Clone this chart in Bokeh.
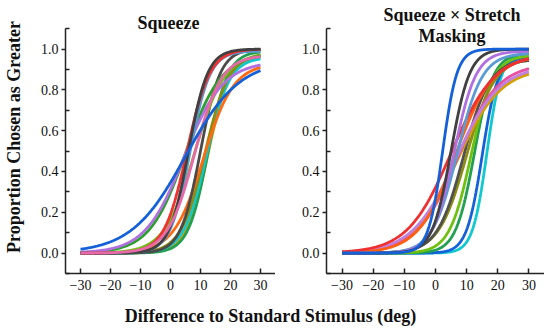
import numpy as np
from bokeh.plotting import figure
from bokeh.layouts import column, row
from bokeh.models import FixedTicker, Label
from bokeh.embed import file_html
from bokeh.resources import INLINE

# ---------------- data ----------------
x_ticks = [-30, -20, -10, 0, 10, 20, 30]
x_tick_labels = ["\u221230", "\u221220", "\u221210", "0", "10", "20", "30"]
y_ticks = [0.0, 0.2, 0.4, 0.6, 0.8, 1.0]
y_tick_labels = ["0.0", "0.2", "0.4", "0.6", "0.8", "1.0"]
y_minor_ticks = [-0.1, 0.1, 0.3, 0.5, 0.7, 0.9, 1.1]
stim_min, stim_max = -30, 30

panel_titles = ["Squeeze", "Squeeze \u00d7 Stretch", "Masking"]
y_label = "Proportion Chosen as Greater"
x_label = "Difference to Standard Stimulus (deg)"

# fitted psychometric functions per participant
sq_colors = ["#d4a000", "#22a050", "#10c8d0", "#8c8c10", "#ff6a10", "#4a4a4a",
             "#70c010", "#2ca02c", "#b070e0", "#5a9ad0", "#f23030", "#404040",
             "#e868a8", "#1460d8"]
sq_pse = [12.5, 12.5, 12.0, 11.5, 11.0, 10.0, 8.0, 5.0, 4.5, 6.5, 5.5, 6.0, 8.0, 5.0]
sq_spread = [3.6, 3.3, 3.8, 4.0, 5.0, 3.3, 5.0, 6.0, 6.5, 3.3, 3.8, 3.2, 4.5, 9.0]
sq_lapse = [0.03, 0.01, 0.04, 0.02, 0.07, 0.0, 0.02, 0.02, 0.06, 0.01, 0.0, 0.0, 0.03, 0.05]

ss_colors = ["#10c8d0", "#1460d8", "#22a050", "#70c010", "#8c8c10", "#505050",
             "#d4a000", "#e850a0", "#c080e0", "#ff6010", "#f03030", "#5b9bd5",
             "#b070e0", "#404040", "#1460d8"]
ss_pse = [16.5, 15.0, 12.5, 11.5, 10.0, 9.0, 7.0, 7.0, 6.5, 6.5, 5.0, 7.0, 6.0, 5.0, 2.3]
ss_spread = [2.3, 2.5, 3.0, 3.5, 4.5, 4.2, 7.0, 6.5, 7.0, 6.0, 7.0, 4.0, 3.5, 3.0, 2.3]
ss_lapse = [0.02, 0.04, 0.02, 0.03, 0.04, 0.05, 0.09, 0.07, 0.08, 0.03, 0.02, 0.02, 0.01, 0.0, 0.0]

FONT = "Liberation Serif"
AX = "#222222"
ROW_H = 300


def make_panel(width, left, colors, pse, spread, lapse):
    # frame spans from the canvas top down to the x axis; axis bounds keep
    # the drawn y axis between -0.1 and 1.1, leaving room for titles inside
    p = figure(width=width, height=ROW_H, x_range=(-35, 35), y_range=(-0.1, 1.238),
               min_border_left=left, min_border_right=0, min_border_top=0,
               min_border_bottom=27, output_backend="svg", toolbar_location=None)
    p.grid.visible = False
    p.outline_line_color = None
    p.background_fill_color = None
    p.border_fill_color = None
    xs = np.linspace(stim_min, stim_max, 241)
    for c, m, s, l in zip(colors, pse, spread, lapse):
        ys = (1 - l) / (1 + np.exp(-(xs - m) / s))
        p.line(xs, ys, line_color=c, line_width=2.8)
    p.xaxis.ticker = FixedTicker(ticks=x_ticks, minor_ticks=[])
    p.xaxis.major_label_overrides = dict(zip(x_ticks, x_tick_labels))
    p.yaxis.ticker = FixedTicker(ticks=y_ticks, minor_ticks=y_minor_ticks)
    p.yaxis.major_label_overrides = dict(zip(y_ticks, y_tick_labels))
    p.yaxis.bounds = (-0.1, 1.1)
    for ax in (p.xaxis[0], p.yaxis[0]):
        ax.axis_line_color = AX
        ax.axis_line_width = 1.5
        ax.major_tick_line_color = AX
        ax.major_tick_line_width = 1.5
        ax.minor_tick_line_color = AX
        ax.minor_tick_line_width = 1.5
        ax.major_label_text_font = FONT
        ax.major_label_text_font_size = "14px"
        ax.major_label_text_color = "#111111"
    p.xaxis.major_tick_in = 5
    p.xaxis.major_tick_out = 0
    p.xaxis.major_label_standoff = 6
    p.yaxis.major_tick_in = 0
    p.yaxis.major_tick_out = 4
    p.yaxis.minor_tick_in = 4
    p.yaxis.minor_tick_out = 0
    p.yaxis.major_label_standoff = 3
    return p


def title_label(x, y, text):
    return Label(x=x, y=y, text=text, text_align="center", text_baseline="alphabetic",
                 text_font=FONT, text_font_size="18px", text_font_style="bold",
                 text_color="#111111")


p1 = make_panel(275, 57, sq_colors, sq_pse, sq_spread, sq_lapse)
p1.yaxis.axis_label = y_label
p1.yaxis.axis_label_text_font = FONT
p1.yaxis.axis_label_text_font_size = "18px"
p1.yaxis.axis_label_text_font_style = "bold"
p1.yaxis.axis_label_text_color = "#111111"
p1.yaxis.axis_label_standoff = 14
p1.add_layout(title_label(-0.7, 1.128, panel_titles[0]))

p2 = make_panel(269, 51, ss_colors, ss_pse, ss_spread, ss_lapse)
p2.add_layout(title_label(5.3, 1.168, panel_titles[1]))
p2.add_layout(title_label(5.3, 1.066, panel_titles[2]))

p3 = figure(width=544, height=28, x_range=(0, 544), y_range=(0, 28),
            x_axis_type=None, y_axis_type=None, min_border=0,
            output_backend="svg", toolbar_location=None)
p3.grid.visible = False
p3.outline_line_color = None
p3.add_layout(Label(x=270, y=13, text=x_label, text_align="center",
                    text_baseline="alphabetic", text_font=FONT, text_font_size="18px",
                    text_font_style="bold", text_color="#111111"))

layout = column(row(p1, p2), p3)
open("out.html", "w").write(file_html(layout, INLINE))
